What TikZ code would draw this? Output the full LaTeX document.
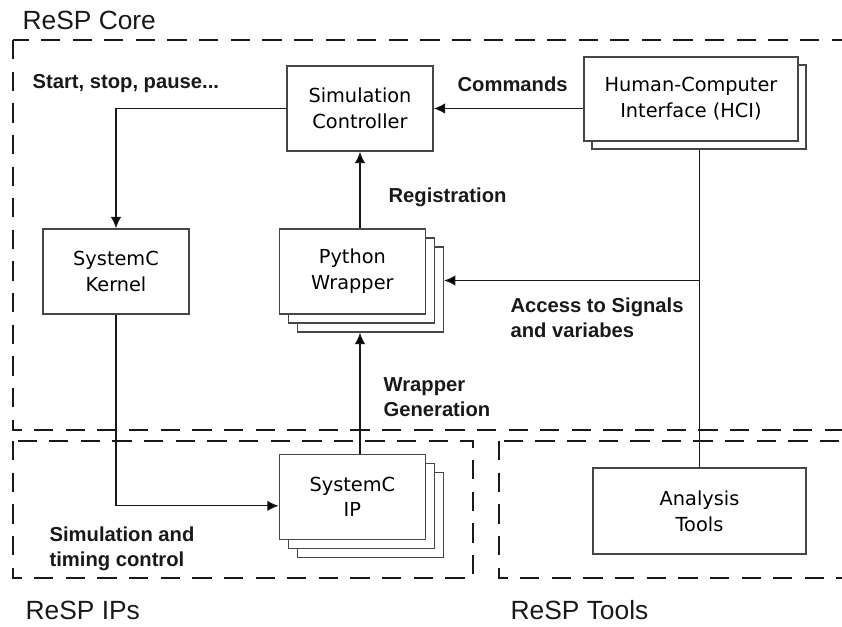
\documentclass[tikz,border=0pt]{standalone}
\usepackage{fontspec}
\setmainfont{Liberation Sans}
\newfontfamily\boxfont{DejaVu Sans}
\usepackage{tikz}
\usetikzlibrary{positioning}
\usetikzlibrary{arrows.meta}
\usetikzlibrary{shadows}
\definecolor{boxgray}{RGB}{70,70,70}
\definecolor{txtdark}{RGB}{25,25,25}
\tikzset{block/.style={rectangle,draw=boxgray,fill=white,line width=0.8pt,text=black,align=center,minimum width=2.92cm,minimum height=1.7cm,inner sep=2pt,font=\boxfont\fontsize{11}{14.7}\selectfont},
stack one/.style={copy shadow={shadow xshift=0.16cm,shadow yshift=-0.16cm,draw=boxgray,fill=white,line width=0.8pt}},
stack two/.style={copy shadow={shadow xshift=0.36cm,shadow yshift=-0.36cm,draw=boxgray,fill=white,line width=0.8pt},copy shadow={shadow xshift=0.18cm,shadow yshift=-0.18cm,draw=boxgray,fill=white,line width=0.8pt}},
label text/.style={font=\bfseries\fontsize{11.5}{14.2}\selectfont,text=txtdark,align=left,inner sep=0pt},
area text/.style={font=\fontsize{15}{18}\selectfont,text=txtdark,inner sep=0pt},
area/.style={draw=txtdark,line width=1.1pt,dash pattern=on 11pt off 7pt}}

\begin{document}
\begin{tikzpicture}[x=0.02cm, y=-0.02cm, >={Latex[length=6.5pt,width=6pt]}, line width=0.7pt]
	\useasboundingbox (0,0) rectangle (842,626);
	% dashed areas
	\draw[area] (13,40) rectangle (880,430);
	\draw[area] (13,441) rectangle (473,578);
	\draw[area] (499,441) rectangle (880,578);
	\node[area text, anchor=base west] (corename) at (22,29) {ReSP Core};
	\node[area text, anchor=base west] (ipsname) at (25,619) {ReSP IPs};
	\node[area text, anchor=base west] (toolsname) at (510,619) {ReSP Tools};

	\node[block] (ctrl) at (360,108.5) {Simulation\\Controller};
	\node[block, stack one, minimum width=4.28cm, minimum height=1.68cm] (hci) at (691,99) {Human-Computer\\Interface (HCI)};
	\node[block] (kernel) at (116,271.5) {SystemC\\Kernel};
	\node[block, stack two] (wrapper) [right=1.78cm of kernel] {Python\\Wrapper};
	\node[block, stack two] (ip) [below=2.78cm of wrapper] {SystemC\\IP};
	\node[block, minimum width=4.26cm, minimum height=1.72cm] (tools) at (699.5,511) {Analysis\\Tools};

	\coordinate (wrapback) at ([xshift=0.36cm, yshift=-0.18cm]wrapper.east);
	\coordinate (wrapbottom) at ([yshift=-0.36cm]wrapper.south);
	\coordinate (hcibottom) at ([yshift=-0.16cm]hci.south);
	\coordinate (ipin) at ([yshift=-0.18cm]ip.west);

	\path[draw=txtdark]
	(hcibottom -| tools.north) edge (tools.north)
	(hci.west |- ctrl.east) edge [->] (ctrl.east)
	(ctrl.west) edge [->, to path={-| (\tikztotarget)}] (kernel.north)
	(wrapper.north -| ctrl.south) edge [->] (ctrl.south)
	(ip.north -| ctrl.south) edge [->] (wrapbottom -| ctrl.south)
	(kernel.south) edge [->, to path={|- (\tikztotarget)}] (ipin)
	(wrapback -| tools.north) edge [->] (wrapback);

	\node[label text, anchor=base west] (startlbl) at (32,88) {Start, stop, pause...};
	\node[label text, anchor=base west] (cmdlbl) at (457,91) {Commands};
	\node[label text, anchor=base west] (reglbl) at (388,202) {Registration};
	\node[label text, anchor=west] (acclbl) at (510,318) {Access to Signals\\and variabes};
	\node[label text, anchor=west] (genlbl) at (383,397) {Wrapper\\Generation};
	\node[label text, anchor=west] (simlbl) at (49,549) {Simulation and\\timing control};
\end{tikzpicture}
\end{document}
